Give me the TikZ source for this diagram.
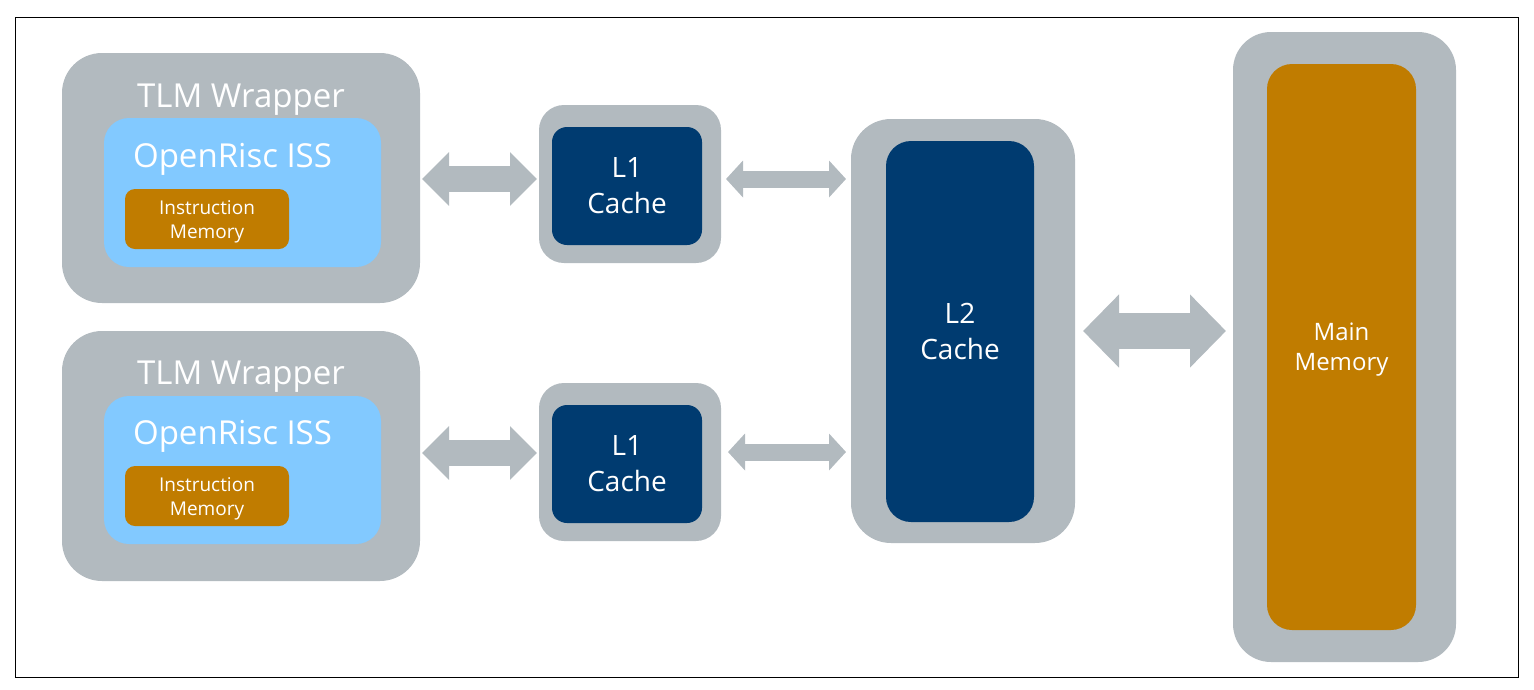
\documentclass[tikz,border=0pt]{standalone}
\usepackage{fontspec}
\setmainfont{Open Sans}
\usetikzlibrary{calc,arrows.meta}
\definecolor{wgray}{RGB}{178,186,191}
\definecolor{issblue}{RGB}{130,201,255}
\definecolor{membrown}{RGB}{192,124,0}
\definecolor{cnavy}{RGB}{0,59,112}
\tikzset{
  box/.style={inner sep=0pt, outer sep=0pt, align=center, text=white},
  graybox/.style={box, fill=wgray},
  issbox/.style={box, fill=issblue},
  membox/.style={box, fill=membrown},
  cachebox/.style={box, fill=cnavy},
  bigtxt/.style={text=white, inner sep=0pt, font=\fontsize{33}{38}\selectfont},
  imtxt/.style={font=\fontsize{19}{24}\selectfont},
  cachetxt/.style={font=\fontsize{28}{36}\selectfont},
  mmtxt/.style={font=\fontsize{24}{30}\selectfont},
  arrA/.style={draw=wgray, line width=26pt, {Triangle[width=52pt,length=27pt,fill=wgray]}-{Triangle[width=52pt,length=27pt,fill=wgray]}},
  arrB/.style={draw=wgray, line width=17pt, {Triangle[width=36pt,length=17pt,fill=wgray]}-{Triangle[width=36pt,length=17pt,fill=wgray]}},
  arrC/.style={draw=wgray, line width=36pt, {Triangle[width=71pt,length=36pt,fill=wgray]}-{Triangle[width=71pt,length=36pt,fill=wgray]}},
}
\begin{document}
\begin{tikzpicture}[x=1pt,y=-1pt]
\useasboundingbox (0,0) rectangle (1534,689);
\draw[black, line width=1pt] (15,17) rectangle (1518,677);
% wrappers
\node[graybox, minimum width=358pt, minimum height=250pt, rounded corners=40pt] (w1) at (241,178) {};
\node[issbox, minimum width=277pt, minimum height=149pt, rounded corners=25pt] (iss1) at (242.5,192.5) {};
\node[membox, minimum width=164pt, minimum height=60pt, rounded corners=10pt] (im1) at (207,219) {};
\node[imtxt, text=white, align=center, inner sep=0pt] (im1t) at (207,222) {Instruction\\Memory};
\node[bigtxt] (t1) at (241,100) {TLM Wrapper};
\node[bigtxt] (o1) at (232.5,159) {OpenRisc ISS};
\node[graybox, minimum width=358pt, minimum height=250pt, rounded corners=40pt] (w2) at (241,456) {};
\node[issbox, minimum width=277pt, minimum height=148pt, rounded corners=25pt] (iss2) at (242.5,470) {};
\node[membox, minimum width=164pt, minimum height=60pt, rounded corners=10pt] (im2) at (207,496) {};
\node[imtxt, text=white, align=center, inner sep=0pt] (im2t) at (207,499) {Instruction\\Memory};
\node[bigtxt] (t2) at (241,377) {TLM Wrapper};
\node[bigtxt] (o2) at (232.5,436) {OpenRisc ISS};
% L1 caches
\node[graybox, minimum width=182pt, minimum height=158pt, rounded corners=25pt] (l1a) at (630,184) {};
\node[cachebox, minimum width=150pt, minimum height=118pt, rounded corners=15pt, cachetxt] (l1ai) at (627,186) {L1\\Cache};
\node[graybox, minimum width=182pt, minimum height=158pt, rounded corners=25pt] (l1b) at (630,462) {};
\node[cachebox, minimum width=150pt, minimum height=118pt, rounded corners=15pt, cachetxt] (l1bi) at (627,464) {L1\\Cache};
% L2
\node[graybox, minimum width=224pt, minimum height=424pt, rounded corners=40pt] (l2) at (963,331) {};
\node[cachebox, minimum width=148pt, minimum height=381pt, rounded corners=25pt, cachetxt] (l2i) at (960,331.5) {L2\\Cache};
% Main memory
\node[graybox, minimum width=223pt, minimum height=630pt, rounded corners=38pt] (mm) at (1344.5,347) {};
\node[membox, minimum width=149pt, minimum height=566pt, rounded corners=25pt] (mmi) at (1341.5,347) {};
\node[mmtxt, text=white, align=center, inner sep=0pt] (mmt) at (1341.5,350) {Main\\Memory};
% arrows
\draw[arrA] ($(w1.east)+(2,1)$) -- ($(w1.east -| l1a.west)+(-2,1)$);
\draw[arrA] ($(w2.east)+(2,-3)$) -- ($(w2.east -| l1b.west)+(-2,-3)$);
\draw[arrB] ($(l1a.east)+(5,-5)$) -- ($(l1a.east -| l2.west)+(-5,-5)$);
\draw[arrB] ($(l1b.east)+(7,-10)$) -- ($(l1b.east -| l2.west)+(-5,-10)$);
\draw[arrC] ($(l2.east)+(8,0)$) -- ($(l2.east -| mm.west)+(-7,0)$);
\end{tikzpicture}
\end{document}
